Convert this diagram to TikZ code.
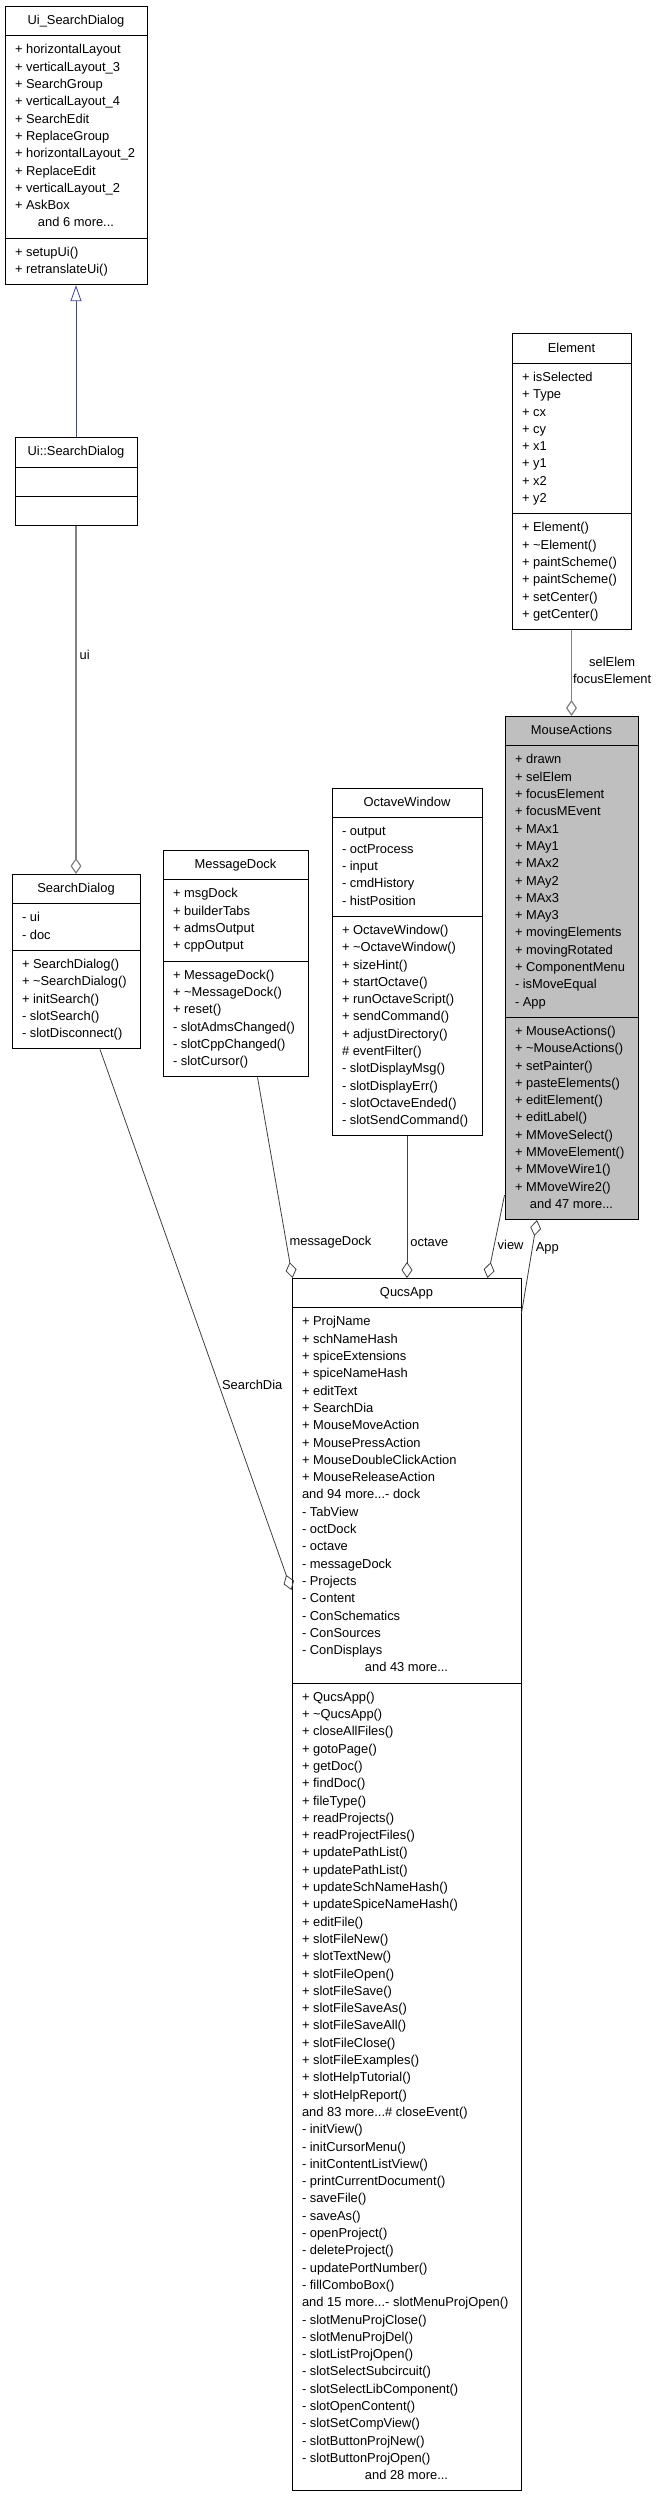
\documentclass[tikz,border=0pt]{standalone}
\usepackage{fontspec}
\setmainfont{Liberation Sans}
\usepackage{tikz}
\usetikzlibrary{shapes.multipart,arrows.meta,positioning}
\definecolor{edgegrey}{RGB}{64,64,64}
\definecolor{lightedge}{RGB}{128,128,128}
\definecolor{inheritblue}{RGB}{60,70,150}
\definecolor{focusgrey}{RGB}{191,191,191}
\newcommand{\classfont}{\fontsize{12.9}{17.3}\selectfont}
\newcommand{\more}[2]{\makebox[#1][c]{and #2 more...}}

\begin{document}
\begin{tikzpicture}[x=1pt, y=-1pt,
    cls/.style={draw, line width=1pt, rectangle split, rectangle split parts=3,
      rectangle split part align={center,left,left}, align=left,
      inner xsep=10pt, inner ysep=5.5pt, font=\classfont, anchor=north},
    inherit/.style={draw=inheritblue, line width=0.8pt, -{Triangle[open, length=16pt, width=11pt]}},
    member/.style={draw=edgegrey, line width=0.8pt, -{Diamond[open, length=16pt, width=11pt]}},
    memlight/.style={draw=lightedge, line width=1.2pt, -{Diamond[open, length=16pt, width=11pt]}},
    lbl/.style={font=\classfont, inner xsep=3pt, inner ysep=0pt}]
        \useasboundingbox (0,0) rectangle (659,2496);

        % Search dialog column
        \node [cls, minimum width=142pt] (uiform) at (76,6) {\strut Ui\_SearchDialog
          \nodepart{two}\strut + horizontalLayout\\ + verticalLayout\_3\\ + SearchGroup\\ + verticalLayout\_4\\
            + SearchEdit\\ + ReplaceGroup\\ + horizontalLayout\_2\\ + ReplaceEdit\\ + verticalLayout\_2\\
            + AskBox\\ \more{122pt}{6}\strut
          \nodepart{three}\strut + setupUi()\\ + retranslateUi()\strut};
        \node [cls, minimum width=122pt, below=152pt of uiform] (uisd) {\strut Ui::SearchDialog
          \nodepart{two}\strut
          \nodepart{three}\strut};
        \node [cls, minimum width=128pt] (sdlg) at (76,874) {\strut SearchDialog
          \nodepart{two}\strut - ui\\ - doc\strut
          \nodepart{three}\strut + SearchDialog()\\ + \textasciitilde SearchDialog()\\ + initSearch()\\
            - slotSearch()\\ - slotDisconnect()\strut};

        % Docks and windows
        \node [cls, minimum width=145pt] (mdock) at (235.5,850) {\strut MessageDock
          \nodepart{two}\strut + msgDock\\ + builderTabs\\ + admsOutput\\ + cppOutput\strut
          \nodepart{three}\strut + MessageDock()\\ + \textasciitilde MessageDock()\\ + reset()\\
            - slotAdmsChanged()\\ - slotCppChanged()\\ - slotCursor()\strut};
        \node [cls, minimum width=150pt] (octw) at (407,788) {\strut OctaveWindow
          \nodepart{two}\strut - output\\ - octProcess\\ - input\\ - cmdHistory\\ - histPosition\strut
          \nodepart{three}\strut + OctaveWindow()\\ + \textasciitilde OctaveWindow()\\ + sizeHint()\\
            + startOctave()\\ + runOctaveScript()\\ + sendCommand()\\ + adjustDirectory()\\
            \# eventFilter()\\ - slotDisplayMsg()\\ - slotDisplayErr()\\ - slotOctaveEnded()\\
            - slotSendCommand()\strut};

        % Element and mouse actions
        \node [cls, minimum width=119pt] (elem) at (571.5,333.5) {\strut Element
          \nodepart{two}\strut + isSelected\\ + Type\\ + cx\\ + cy\\ + x1\\ + y1\\ + x2\\ + y2\strut
          \nodepart{three}\strut + Element()\\ + \textasciitilde Element()\\ + paintScheme()\\
            + paintScheme()\\ + setCenter()\\ + getCenter()\strut};
        \node [cls, fill=focusgrey, minimum width=133pt, below=86pt of elem] (mact) {\strut MouseActions
          \nodepart{two}\strut + drawn\\ + selElem\\ + focusElement\\ + focusMEvent\\ + MAx1\\ + MAy1\\
            + MAx2\\ + MAy2\\ + MAx3\\ + MAy3\\ + movingElements\\ + movingRotated\\ + ComponentMenu\\
            - isMoveEqual\\ - App\strut
          \nodepart{three}\strut + MouseActions()\\ + \textasciitilde MouseActions()\\ + setPainter()\\
            + pasteElements()\\ + editElement()\\ + editLabel()\\ + MMoveSelect()\\ + MMoveElement()\\
            + MMoveWire1()\\ + MMoveWire2()\\ \more{113pt}{47}\strut};

        % Application
        \node [cls, minimum width=229pt] (qapp) at (406.5,1278) {\strut QucsApp
          \nodepart{two}\strut + ProjName\\ + schNameHash\\ + spiceExtensions\\ + spiceNameHash\\
            + editText\\ + SearchDia\\ + MouseMoveAction\\ + MousePressAction\\
            + MouseDoubleClickAction\\ + MouseReleaseAction\\ and 94 more...- dock\\ - TabView\\
            - octDock\\ - octave\\ - messageDock\\ - Projects\\ - Content\\ - ConSchematics\\
            - ConSources\\ - ConDisplays\\ \more{209pt}{43}\strut
          \nodepart{three}\strut + QucsApp()\\ + \textasciitilde QucsApp()\\ + closeAllFiles()\\
            + gotoPage()\\ + getDoc()\\ + findDoc()\\ + fileType()\\ + readProjects()\\
            + readProjectFiles()\\ + updatePathList()\\ + updatePathList()\\ + updateSchNameHash()\\
            + updateSpiceNameHash()\\ + editFile()\\ + slotFileNew()\\ + slotTextNew()\\
            + slotFileOpen()\\ + slotFileSave()\\ + slotFileSaveAs()\\ + slotFileSaveAll()\\
            + slotFileClose()\\ + slotFileExamples()\\ + slotHelpTutorial()\\ + slotHelpReport()\\
            and 83 more...\# closeEvent()\\ - initView()\\ - initCursorMenu()\\
            - initContentListView()\\ - printCurrentDocument()\\ - saveFile()\\ - saveAs()\\
            - openProject()\\ - deleteProject()\\ - updatePortNumber()\\ - fillComboBox()\\
            and 15 more...- slotMenuProjOpen()\\ - slotMenuProjClose()\\ - slotMenuProjDel()\\
            - slotListProjOpen()\\ - slotSelectSubcircuit()\\ - slotSelectLibComponent()\\
            - slotOpenContent()\\ - slotSetCompView()\\ - slotButtonProjNew()\\
            - slotButtonProjOpen()\\ \more{209pt}{28}\strut};

        % Inheritance
        \draw [inherit] (uisd.north) -- (uiform.south);

        % Members
        \draw [memlight] (uisd.south) -- node [lbl, right, pos=0.37] {ui} (sdlg.north);
        \draw [memlight] (elem.south) -- node [lbl, right, pos=0.47, align=center, inner xsep=1pt] {selElem\\focusElement} (mact.north);
        \draw [member] ([xshift=24pt]sdlg.south) -- node [lbl, right, pos=0.62] {SearchDia} ([yshift=-312pt]qapp.north west);
        \draw [member] ([xshift=22pt]mdock.south) -- node [lbl, right, pos=0.82] {messageDock} ([xshift=1pt]qapp.north west);
        \draw [member] (octw.south) -- node [lbl, right, pos=0.75] {octave} (octw.south |- qapp.north);
        \draw [member] ([yshift=25pt]mact.south west) -- node [lbl, right, pos=0.6] {view} ([xshift=-34pt]qapp.north east);
        \draw [member] ([yshift=-35pt]qapp.north east) -- node [lbl, right, pos=0.7] {App} ([xshift=-34.5pt]mact.south);
\end{tikzpicture}
\end{document}
